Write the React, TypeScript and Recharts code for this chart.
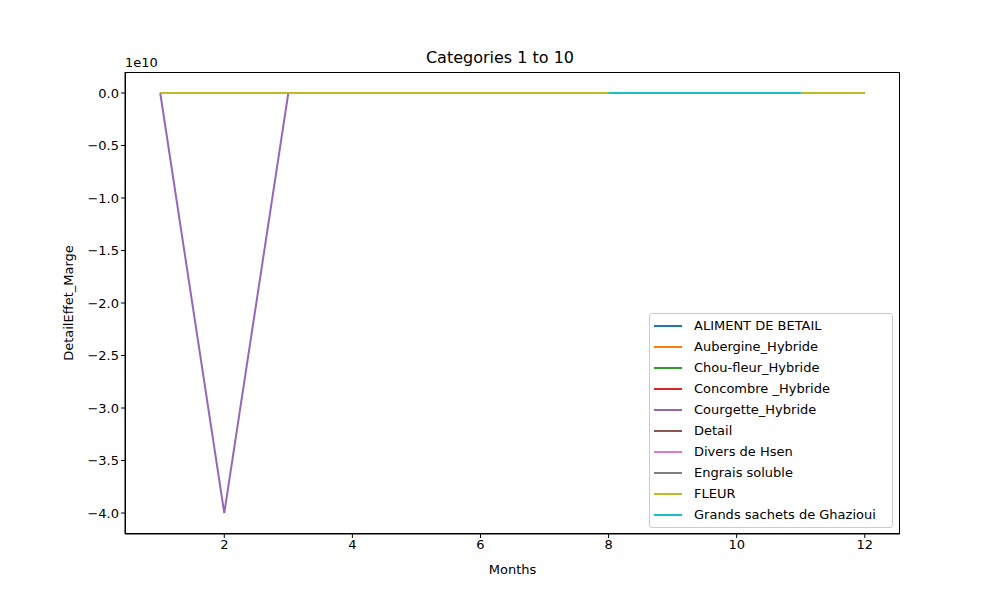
import React from 'react';
import { LineChart, Line, XAxis, YAxis, Label } from 'recharts';

const months = [1, 2, 3, 4, 5, 6, 7, 8, 9, 10, 11, 12];
const seriesNames = [
  'ALIMENT DE BETAIL', 'Aubergine_Hybride', 'Chou-fleur_Hybride', 'Concombre _Hybride',
  'Courgette_Hybride', 'Detail', 'Divers de Hsen', 'Engrais soluble', 'FLEUR',
  'Grands sachets de Ghazioui',
];
const colors = ['#1f77b4', '#ff7f0e', '#2ca02c', '#d62728', '#9467bd', '#8c564b', '#e377c2', '#7f7f7f', '#bcbd22', '#17becf'];
const zeros = [0, 0, 0, 0, 0, 0, 0, 0, 0, 0, 0, 0];
const courgette = [0, -4e10, 0, 0, 0, 0, 0, 0, 0, 0, 0, 0];
const grands = [null, null, null, null, null, null, null, 0, 0, 0, 0, null];
const seriesValues: (number | null)[][] = [zeros, zeros, zeros, zeros, courgette, zeros, zeros, zeros, zeros, grands];
const xTicks = [2, 4, 6, 8, 10, 12];
const yTicks = [-4e10, -3.5e10, -3e10, -2.5e10, -2e10, -1.5e10, -1e10, -0.5e10, 0];

const data = months.map((m, i) => {
  const row: any = { month: m };
  seriesNames.forEach((n, k) => { row[n] = seriesValues[k][i]; });
  return row;
});

const font = 'DejaVu Sans, sans-serif';
const tick = { fill: '#000', fontSize: 13, fontFamily: font };

export default function App() {
  return (
    <div style={{ position: 'absolute', left: 0, top: 0, width: 1000, height: 600, background: '#fff', fontFamily: font }}>
      <LineChart width={1000} height={600} data={data} margin={{ top: 72, right: 100, bottom: 26, left: 0 }}>
        <XAxis dataKey="month" type="number" domain={[0.45, 12.55]} ticks={xTicks} tick={tick}
          stroke="#000" tickSize={4} height={40} allowDataOverflow>
          <Label value="Months" position="insideBottom" offset={0} style={{ fontSize: 13, fontFamily: font, fill: '#000' }} />
        </XAxis>
        <YAxis type="number" domain={[-4.2e10, 0.2e10]} ticks={yTicks} tick={tick} stroke="#000" tickSize={4}
          width={125} allowDataOverflow tickFormatter={(v: number) => (v / 1e10).toFixed(1).replace('-', '−')}>
          <Label value="DetailEffet_Marge" angle={-90} position="insideLeft" offset={68} style={{ fontSize: 13, fontFamily: font, fill: '#000', textAnchor: 'middle' }} />
        </YAxis>
        {seriesNames.map((n, k) => (
          <Line key={n} dataKey={n} stroke={colors[k]} strokeWidth={2} dot={false} isAnimationActive={false} connectNulls={false} />
        ))}
      </LineChart>
      <div style={{ position: 'absolute', left: 125, top: 72, width: 775, height: 462, border: '1px solid #000', boxSizing: 'border-box', pointerEvents: 'none' }} />
      <div style={{ position: 'absolute', left: 0, width: 1000, top: 48, textAlign: 'center', fontSize: 16 }}>Categories 1 to 10</div>
      <div style={{ position: 'absolute', left: 125, top: 55, fontSize: 13 }}>1e10</div>
      <div style={{ position: 'absolute', left: 649, top: 313, width: 244, height: 215, border: '1px solid #ccc', borderRadius: 3, boxSizing: 'border-box', background: 'rgba(255,255,255,0.8)', padding: '1px 0 0 4px', fontSize: 13 }}>
        {seriesNames.map((n, k) => (
          <div key={n} style={{ display: 'flex', alignItems: 'center', height: 21 }}>
            <div style={{ width: 28, height: 2, background: colors[k], marginRight: 12 }} />
            <span>{n}</span>
          </div>
        ))}
      </div>
    </div>
  );
}
